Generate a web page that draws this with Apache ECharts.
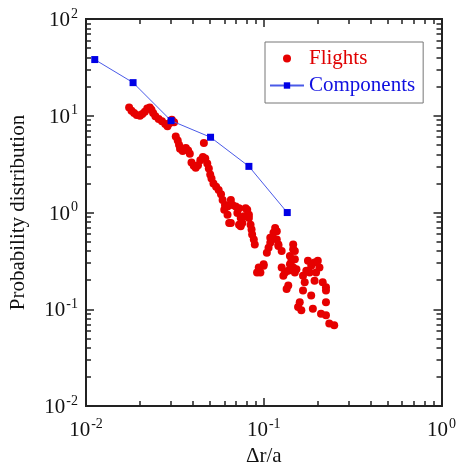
<!DOCTYPE html>
<html><head><meta charset="utf-8">
<script src="https://cdn.jsdelivr.net/npm/echarts@6/dist/echarts.min.js"></script>
<style>html,body{margin:0;padding:0;background:#fff}#c{width:459px;height:472px}</style>
</head><body><div id="c"></div>
<script>
// Flights: [Δr/a, probability]
const flightsX = [0.01748,0.01803,0.01864,0.01929,0.02012,0.02074,0.02143,0.02210,0.02284,0.02334,0.02386,0.02457,0.02563,0.02676,0.02791,0.02874,0.02948,0.03040,0.03130,
0.03199,0.03281,0.03337,0.03380,0.03498,0.03556,0.03648,0.03756,0.03838,0.03922,0.04039,0.04143,0.04266,0.04398,0.04546,0.04689,0.04811,0.04909,0.04605,
0.04998,0.05082,0.05212,0.05395,0.05577,0.05750,0.05868,0.06051,0.06531,0.06667,0.05997,0.06255,0.06392,0.07261,0.07105,0.07420,0.07740,0.08072,0.08250,0.07573,0.07420,0.08430,0.08538,0.08603,0.08790,0.08903,
0.06255,0.06958,0.07909,0.0825,0.07261,0.06531,
0.1159,0.1134,0.1110,0.1088,0.1184,0.1209,0.1064,0.1041,0.09372,0.09986,0.09170,0.09577,0.1261,0.1317,0.1464,0.1464,0.1404,0.1432,0.1088,0.1184,0.1261,0.1496,0.1527,0.1404,0.1374,0.1289,
0.1209,0.1496,0.1464,0.1496,0.1811,0.1663,0.09986,
0.1773,0.1849,0.1735,0.1931,0.2014,0.2058,0.1970,0.1931,0.1700,0.1663,0.1849,0.1374,0.1345,0.2146,0.2239,0.2239,0.1594,0.1560,0.1627,0.1889,0.2239,0.2100,0.2239,0.2337,0.2491];
const flightsY = [12.2,11.27,10.67,10.18,10.01,10.42,11.0,11.92,12.2,11.53,10.67,9.87,9.27,8.78,8.23,7.80,8.37,9.11,8.57,
6.11,5.56,5.02,4.57,4.33,4.57,4.65,4.39,4.06,3.29,3.04,2.90,3.08,3.47,3.76,3.61,3.21,2.85,5.23,
2.48,2.25,2.00,1.85,1.71,1.55,1.35,1.20,1.35,1.20,1.07,0.950,0.781,1.11,0.988,0.879,0.914,1.07,0.950,0.781,0.723,0.750,0.667,0.593,0.527,0.468,
1.157,1.157,1.11,0.879,0.750,0.781,
0.694,0.617,0.548,0.488,0.527,0.468,0.433,0.385,0.2705,0.2816,0.2405,0.2405,0.2705,0.2405,0.468,0.4165,0.3565,0.3167,0.548,0.642,0.4015,0.4015,0.260,0.2924,0.2504,0.2226,
0.451,0.329,0.2705,0.2405,0.2405,0.2226,0.2924,
0.3167,0.2816,0.2504,0.3043,0.3167,0.2705,0.2405,0.1978,0.1901,0.1563,0.139,0.1758,0.1623,0.1901,0.169,0.1563,0.1186,0.1054,0.0976,0.1013,0.1186,0.0901,0.0868,0.0712,0.0685];
// Components
const compX = [0.0112, 0.0184, 0.0301, 0.0502, 0.0825, 0.1356];
const compY = [38.1, 22.0, 8.9, 6.0, 3.0, 1.0];
// Ticks
const xMajor = [0.01, 0.1, 1];
const yMajor = [0.01, 0.1, 1, 10, 100];
const xMinor = [0.02,0.03,0.04,0.05,0.06,0.07,0.08,0.09,0.2,0.3,0.4,0.5,0.6,0.7,0.8,0.9];
const yMinor = [0.02,0.03,0.04,0.05,0.06,0.07,0.08,0.09,0.2,0.3,0.4,0.5,0.6,0.7,0.8,0.9,2,3,4,5,6,7,8,9,20,30,40,50,60,70,80,90];

const serif = '"Liberation Serif","DejaVu Serif",serif';
const fmt = v => { const e = Math.round(Math.log10(v)); return '{b|10}{s|' + e + '}'; };
const rich = {
  b: {fontFamily: serif, fontSize: 21, color: '#111', lineHeight: 24, verticalAlign: 'bottom'},
  s: {fontFamily: serif, fontSize: 14, color: '#111', lineHeight: 24, verticalAlign: 'top', padding: [0,0,0,1]}
};
const lineStyle = {color: '#222', width: 2};
function mkX(pos, major, show) {
  return {
    type: 'log', logBase: 10, min: 0.01, max: 1, position: pos, gridIndex: 0,
    axisLine: {show: true, onZero: false, lineStyle},
    splitLine: {show: false},
    axisTick: {show: true, inside: true, length: major ? 8 : 5, lineStyle: {color: '#222', width: 1.5}, customValues: major ? xMajor : xMinor},
    axisLabel: {show: show, customValues: xMajor, formatter: fmt, rich, margin: 11},
    name: show ? 'Δr/a' : '', nameLocation: 'middle', nameGap: 39,
    nameTextStyle: {fontFamily: serif, fontSize: 21, color: '#111'}
  };
}
function mkY(pos, major, show) {
  return {
    type: 'log', logBase: 10, min: 0.01, max: 100, position: pos, gridIndex: 0,
    axisLine: {show: true, onZero: false, lineStyle},
    splitLine: {show: false},
    axisTick: {show: true, inside: true, length: major ? 8 : 5, lineStyle: {color: '#222', width: 1.5}, customValues: major ? yMajor : yMinor},
    axisLabel: {show: show, customValues: yMajor, formatter: fmt, rich, margin: 8},
    name: show ? 'Probability distribution' : '', nameLocation: 'middle', nameGap: 57,
    nameTextStyle: {fontFamily: serif, fontSize: 21, color: '#111'}
  };
}
const chart = echarts.init(document.getElementById('c'), null, {renderer: 'canvas'});
chart.setOption({
  animation: false,
  backgroundColor: '#fff',
  grid: {left: 85, right: 14, top: 19, bottom: 62, containLabel: false},
  xAxis: [mkX('bottom', true, true), mkX('bottom', false, false), mkX('top', true, false), mkX('top', false, false)],
  yAxis: [mkY('left', true, true), mkY('left', false, false), mkY('right', true, false), mkY('right', false, false)],
  legend: {
    left: 265, top: 42, orient: 'vertical', itemWidth: 34, itemHeight: 8, itemGap: 6,
    padding: [6, 8, 7, 4],
    borderColor: '#777', borderWidth: 1, backgroundColor: '#fff',
    textStyle: {fontFamily: serif, fontSize: 21},
    data: [
      {name: 'Flights', textStyle: {color: '#e00000'}},
      {name: 'Components', textStyle: {color: '#1010e0'}}
    ]
  },
  series: [
    {
      name: 'Components', type: 'line', xAxisIndex: 0, yAxisIndex: 0,
      data: compX.map((x, i) => [x, compY[i]]),
      symbol: 'rect', symbolSize: 7, z: 3,
      lineStyle: {color: '#4a5ae8', width: 1},
      itemStyle: {color: '#0000e6'}
    },
    {
      name: 'Flights', type: 'scatter', xAxisIndex: 0, yAxisIndex: 0,
      data: flightsX.map((x, i) => [x, flightsY[i]]),
      symbol: 'circle', symbolSize: 8, z: 2,
      itemStyle: {color: '#e60000', opacity: 1}
    }
  ]
});
</script></body></html>
